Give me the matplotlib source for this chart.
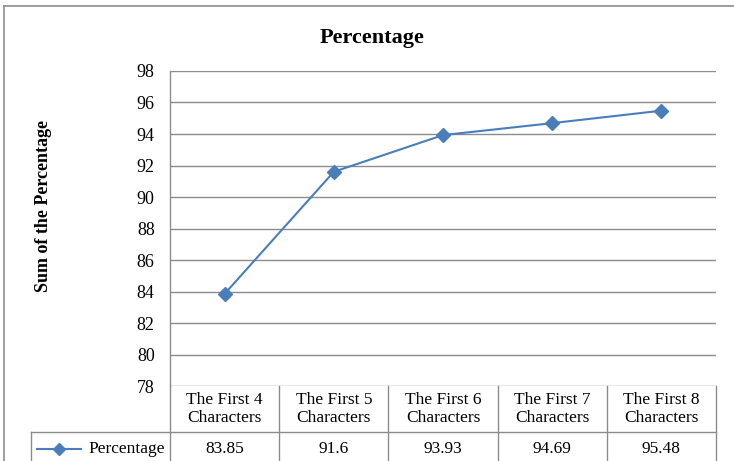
import matplotlib
matplotlib.use("Agg")
import matplotlib.pyplot as plt
from matplotlib.lines import Line2D
from matplotlib.transforms import blended_transform_factory

plt.rcParams['font.family'] = ['Liberation Serif', 'DejaVu Serif']

# Data
categories = ["The First 4\nCharacters", "The First 5\nCharacters", "The First 6\nCharacters",
              "The First 7\nCharacters", "The First 8\nCharacters"]
series_name = "Percentage"
values = [83.85, 91.6, 93.93, 94.69, 95.48]
value_labels = ["83.85", "91.6", "93.93", "94.69", "95.48"]
y_ticks = [78, 80, 82, 84, 86, 88, 90, 92, 94, 96, 98]

W, H = 734, 461
fig = plt.figure(figsize=(W / 100, H / 100), dpi=100)
ax = fig.add_axes([170 / W, 1 - 386 / H, 546 / W, 315 / H])

line_color = "#4A7EBB"
grid_color = "#8C8C8C"

x = list(range(len(values)))
ax.plot(x, values, color=line_color, lw=1.5, marker="D", ms=7,
        mfc=line_color, mec=line_color, zorder=3)

ax.set_xlim(-0.5, len(values) - 0.5)
ax.set_ylim(78, 98)
ax.set_yticks(y_ticks)
ax.set_yticklabels([str(t) for t in y_ticks], fontsize=13)
ax.set_xticks([])
ax.tick_params(axis="y", length=0, pad=11)
for yt in y_ticks:
    ax.axhline(yt, color=grid_color, lw=1.0, zorder=1)
for side in ["top", "right", "bottom"]:
    ax.spines[side].set_visible(False)
ax.spines["left"].set_color(grid_color)
ax.spines["left"].set_linewidth(1.0)

# Data table below the plot area
tr = blended_transform_factory(ax.transData, ax.transAxes)
row1 = -46 / 315      # bottom of header row
row_bottom = -0.4     # runs past the figure edge
label_left = -0.5 - (170 - 31) / 109.2

for i in range(len(values) + 1):
    ax.add_line(Line2D([i - 0.5, i - 0.5], [0, row_bottom], transform=tr,
                       color=grid_color, lw=1.0, clip_on=False))
ax.add_line(Line2D([label_left, len(values) - 0.5], [row1, row1], transform=tr,
                   color=grid_color, lw=1.0, clip_on=False))
ax.add_line(Line2D([label_left, label_left], [row1, row_bottom], transform=tr,
                   color=grid_color, lw=1.0, clip_on=False))

for i, (cat, lab) in enumerate(zip(categories, value_labels)):
    ax.text(i, row1 / 2, cat, transform=tr, ha="center", va="center",
            fontsize=12.5, linespacing=1.15, clip_on=False)
    ax.text(i, -63 / 315, lab, transform=tr, ha="center", va="center",
            fontsize=12.5, clip_on=False)

# Legend key in the row header
key_y = -63 / 315
kx0 = -0.5 - (170 - 37) / 109.2
kx1 = -0.5 - (170 - 81) / 109.2
ax.add_line(Line2D([kx0, kx1], [key_y, key_y], transform=tr, color=line_color,
                   lw=1.5, clip_on=False))
ax.add_line(Line2D([(kx0 + kx1) / 2], [key_y], transform=tr, color=line_color,
                   marker="D", ms=6, mfc=line_color, mec=line_color, clip_on=False))
ax.text(-0.5 - 5 / 109.2, key_y, series_name, transform=tr, ha="right", va="center",
        fontsize=12.5, clip_on=False)

# Chart border
fig.add_artist(Line2D([3.5 / W, 3.5 / W], [0, 1 - 6 / H], transform=fig.transFigure,
                      color=grid_color, lw=1.2))
fig.add_artist(Line2D([3.5 / W, 1.0], [1 - 6 / H, 1 - 6 / H], transform=fig.transFigure,
                      color=grid_color, lw=1.2))

fig.text(372 / W, 1 - 38 / H, "Percentage", ha="center", va="center",
         fontsize=16, fontweight="bold")
fig.text(44 / W, 1 - 206 / H, "Sum of the Percentage", ha="center", va="center",
         rotation=90, fontsize=13, fontweight="bold")

fig.savefig("out.png", dpi=100)
